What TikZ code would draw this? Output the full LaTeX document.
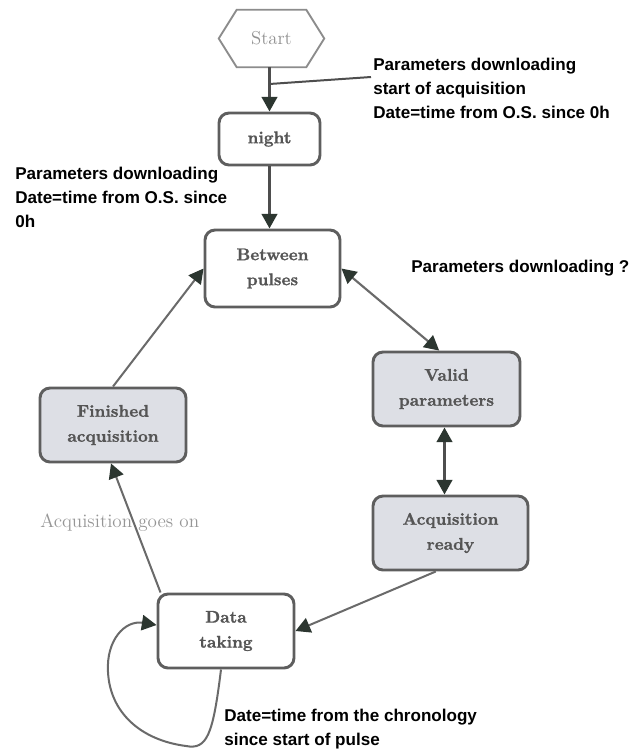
\documentclass[tikz,border=0pt]{standalone}
\usepackage{fontspec}
\newfontfamily\notefont{Liberation Sans}[BoldFont={Liberation Sans Bold}]
\newfontfamily\boxfont{lmroman10-bold.otf}[FakeBold=1.2]
\usetikzlibrary{arrows.meta}
\definecolor{boxline}{HTML}{5E5E5E}
\definecolor{boxtext}{HTML}{555555}
\definecolor{boxfill}{HTML}{DDDFE5}
\definecolor{tipc}{HTML}{2C3630}
\definecolor{edgec}{HTML}{6A6A6A}
\definecolor{darkedge}{HTML}{4E4E4E}
\tikzset{
  x=0.75pt, y=-0.75pt,
  state/.style={draw=boxline, line width=2.2pt, rounded corners=7.5pt,
    fill=white, align=center, inner sep=0pt, text=boxtext,
    font=\boxfont\fontsize{12.7}{18.75}\selectfont},
  shaded/.style={state, fill=boxfill},
  note/.style={align=left, inner sep=0pt, text=black,
    font=\notefont\fontsize{12.8}{18}\selectfont\bfseries},
  tip/.style={-{Triangle[length=11pt,width=11.5pt,color=tipc]}},
  both/.style={{Triangle[length=11pt,width=11.5pt,color=tipc]}-{Triangle[length=11pt,width=11.5pt,color=tipc]}},
  thinedge/.style={draw=edgec, line width=1.5pt},
  boldedge/.style={draw=darkedge, line width=2.3pt},
}
\begin{document}
\begin{tikzpicture}
\useasboundingbox[fill=white] (0,0) rectangle (635,751);

% start terminal (hexagon drawn around the node)
\node[inner sep=0pt, minimum width=78.75pt, minimum height=42.75pt,
      text={rgb,255:red,145;green,145;blue,145},
      font=\rmfamily\fontsize{14}{18}\selectfont] (start) at (271.5,38.5) {Start};
\draw[draw={rgb,255:red,140;green,140;blue,140}, line width=1.4pt]
  (start.west) -- ([xshift=13.5pt]start.north west) -- ([xshift=-13.5pt]start.north east)
  -- (start.east) -- ([xshift=-13.5pt]start.south east) -- ([xshift=13.5pt]start.south west) -- cycle;

% states
\node[state, minimum width=75.75pt, minimum height=39pt] (night) at (269.5,139) {night};
\node[state, minimum width=101.25pt, minimum height=57.75pt] (between) at (272.5,268.5) {Between\\pulses};
\node[shaded, minimum width=110.25pt, minimum height=55.5pt] (valid) at (446.5,389) {Valid\\parameters};
\node[shaded, minimum width=116.25pt, minimum height=55.5pt] (ready) at (450.5,533) {Acquisition\\ready};
\node[state, minimum width=102pt, minimum height=55.5pt] (data) at (226,631) {Data\\taking};
\node[shaded, minimum width=109.5pt, minimum height=55.5pt] (finished) at (113,425) {Finished\\acquisition};

% transitions
\draw[boldedge, tip] (start.south -| night.north) -- (night.north);
\coordinate (tap) at (night.north |- 0,84);
\coordinate (tapend) at (371,77);
\draw[draw=darkedge, line width=1.5pt] (tap) -- (tapend);
\draw[boldedge, tip] (night.south) -- (night.south |- between.north);
\draw[draw=edgec, line width=1.6pt, both] (between.east) -- ([xshift=-5.5pt]valid.north);
\draw[boldedge, both] ([xshift=-1.5pt]valid.south) -- ([xshift=-1.5pt]valid.south |- ready.north);
\draw[thinedge, tip] ([xshift=-11pt]ready.south) -- (data.east);
\draw[thinedge, tip] ([xshift=3pt]data.north west) -- ([xshift=-1.5pt]finished.south);
\draw[thinedge, tip] (finished.north) -- (between.west);
\draw[thinedge, tip] ([xshift=-3.75pt]data.south)
  .. controls (213,735) and (207,750) .. (186,746)
  .. controls (140,740) and (110,712) .. (108,672)
  .. controls (106,640) and (125,620) .. ([yshift=4.5pt]data.west);

% annotations
\node[note, anchor=north west] (n1) at (373,58)
  {Parameters downloading\\start of acquisition\\Date=time from O.S. since 0h};
\node[note, anchor=north west] (n2) at (15,167)
  {Parameters downloading\\Date=time from O.S. since\\0h};
\node[note, anchor=base west] (n3) at (411,272) {Parameters downloading ?};
\node[inner sep=0pt, anchor=base west, text={rgb,255:red,150;green,150;blue,150},
      font=\rmfamily\fontsize{14.3}{18}\selectfont] (n4) at (40,527) {Acquisition goes on};
\node[note, anchor=north west] (n5) at (224,709)
  {Date=time from the chronology\\since start of pulse};
\end{tikzpicture}
\end{document}
